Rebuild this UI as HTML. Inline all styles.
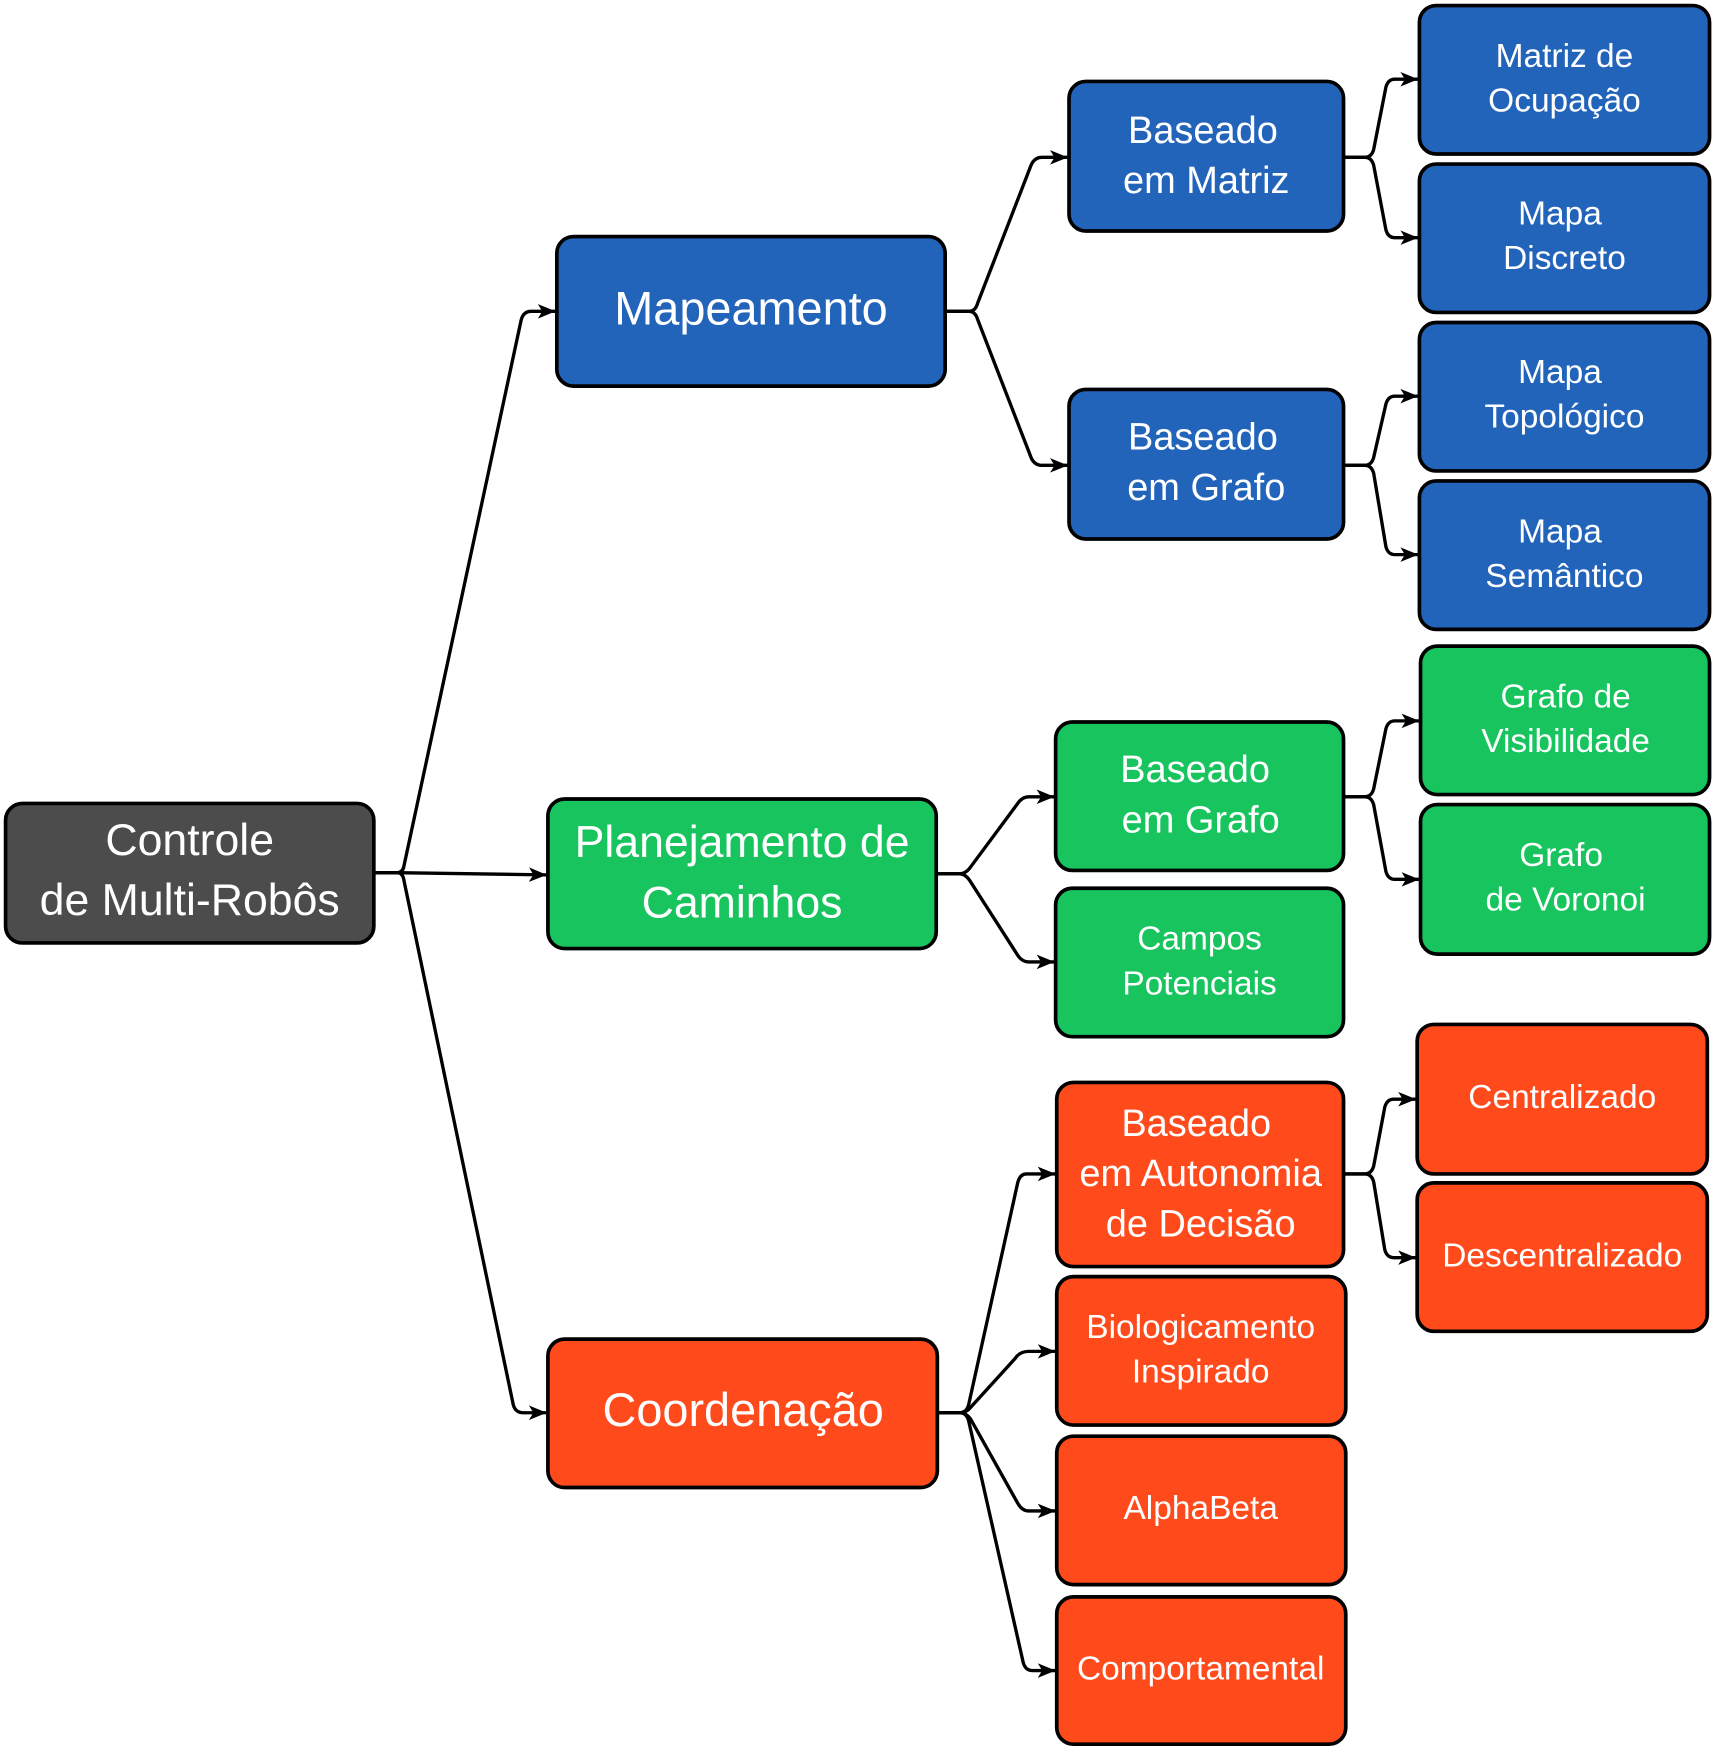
<!DOCTYPE html>
<html><head><meta charset="utf-8"><style>
html,body{margin:0;padding:0;background:#fff;}
svg{display:block;}
text{font-family:"Liberation Sans",Arial,sans-serif;fill:#fff;text-anchor:middle;}
</style></head><body>
<svg width="1714" height="1752" viewBox="0 0 1536 1570" preserveAspectRatio="none" xmlns="http://www.w3.org/2000/svg">
<defs>
<marker id="a" markerWidth="16" markerHeight="13" refX="15" refY="6.5" orient="auto" markerUnits="userSpaceOnUse">
<path d="M0,0 L16,6.5 L0,13 L4,6.5 z" fill="#000"/>
</marker>
</defs>
<g fill="none" stroke="#000" stroke-width="3" stroke-linejoin="round" stroke-linecap="round" marker-end="url(#a)">
<path d="M335 782 H356 Q361 782 362 776 L467 287 Q469 279 476 279 H497"/>
<path d="M335 782 H356 L489 784"/>
<path d="M335 782 H356 Q361 782 362 789 L460 1259 Q462 1266 469 1266 H489"/>
<path d="M847 279 H868 Q874 279 876 272 L924 148 Q927 141 934 141 H956"/>
<path d="M847 279 H868 Q874 279 876 286 L924 410 Q927 417 934 417 H956"/>
<path d="M839 783 H860 Q865 783 869 778 L912 720 Q916 714 922 714 H944"/>
<path d="M839 783 H860 Q865 783 869 789 L912 856 Q916 862 922 862 H944"/>
<path d="M840 1266 H860 Q866 1266 868 1259 L912 1060 Q914 1052 920 1052 H945"/>
<path d="M840 1266 H860 Q866 1266 870 1261 L910 1217 Q914 1211 922 1211 H945"/>
<path d="M840 1266 H860 Q866 1266 870 1272 L912 1347 Q916 1354 922 1354 H945"/>
<path d="M840 1266 H860 Q866 1266 868 1273 L917 1490 Q919 1497 925 1497 H945"/>
<path d="M1204 141 H1223 Q1229 141 1231 134 L1242 78 Q1244 71 1250 71 H1270"/>
<path d="M1204 141 H1223 Q1229 141 1231 148 L1242 206 Q1244 213 1250 213 H1270"/>
<path d="M1204 417 H1223 Q1229 417 1231 410 L1242 362 Q1244 355 1250 355 H1270"/>
<path d="M1204 417 H1223 Q1229 417 1231 424 L1242 490 Q1244 497 1250 497 H1270"/>
<path d="M1204 714 H1223 Q1229 714 1231 707 L1242 653 Q1244 646 1250 646 H1271"/>
<path d="M1204 714 H1223 Q1229 714 1231 721 L1242 781 Q1244 788 1250 788 H1271"/>
<path d="M1204 1052 H1223 Q1229 1052 1231 1045 L1241 992 Q1243 985 1249 985 H1268"/>
<path d="M1204 1052 H1223 Q1229 1052 1231 1059 L1241 1120 Q1243 1127 1249 1127 H1268"/>
</g>
<g stroke="#000" stroke-width="3.3">
<rect x="5" y="720" width="330" height="125" rx="15" fill="#4C4C4C"/>
<rect x="499" y="212" width="348" height="134" rx="15" fill="#2364BB"/>
<rect x="491" y="716" width="348" height="134" rx="15" fill="#18C45E"/>
<rect x="491" y="1200" width="349" height="133" rx="15" fill="#FF4A1C"/>
<rect x="958" y="73" width="246" height="134" rx="15" fill="#2364BB"/>
<rect x="958" y="349" width="246" height="134" rx="15" fill="#2364BB"/>
<rect x="1272" y="5" width="260" height="133" rx="15" fill="#2364BB"/>
<rect x="1272" y="147" width="260" height="133" rx="15" fill="#2364BB"/>
<rect x="1272" y="289" width="260" height="133" rx="15" fill="#2364BB"/>
<rect x="1272" y="431" width="260" height="133" rx="15" fill="#2364BB"/>
<rect x="946" y="647" width="258" height="133" rx="15" fill="#18C45E"/>
<rect x="946" y="796" width="258" height="133" rx="15" fill="#18C45E"/>
<rect x="1273" y="579" width="259" height="133" rx="15" fill="#18C45E"/>
<rect x="1273" y="721" width="259" height="134" rx="15" fill="#18C45E"/>
<rect x="947" y="970" width="257" height="165" rx="15" fill="#FF4A1C"/>
<rect x="947" y="1144" width="259" height="133" rx="15" fill="#FF4A1C"/>
<rect x="947" y="1287" width="259" height="133" rx="15" fill="#FF4A1C"/>
<rect x="947" y="1431" width="259" height="132" rx="15" fill="#FF4A1C"/>
<rect x="1270" y="918" width="260" height="134" rx="15" fill="#FF4A1C"/>
<rect x="1270" y="1060" width="260" height="133" rx="15" fill="#FF4A1C"/>
</g>
<g font-size="40">
<text x="170" y="766">Controle</text><text x="170" y="820">de Multi-Robôs</text>
<text x="665" y="768">Planejamento de</text><text x="665" y="822">Caminhos</text>
</g>
<g font-size="42">
<text x="673" y="291">Mapeamento</text>
<text x="666" y="1278">Coordenação</text>
</g>
<g font-size="34">
<text x="1078" y="128">Baseado</text><text x="1081" y="173">em Matriz</text>
<text x="1078" y="403">Baseado</text><text x="1081" y="448">em Grafo</text>
<text x="1071" y="701">Baseado</text><text x="1076" y="746">em Grafo</text>
<text x="1072" y="1018">Baseado</text><text x="1076" y="1063">em Autonomia</text><text x="1076" y="1108">de Decisão</text>
</g>
<g font-size="30">
<text x="1402" y="60">Matriz de</text><text x="1402" y="100">Ocupação</text>
<text x="1398" y="201">Mapa</text><text x="1402" y="241">Discreto</text>
<text x="1398" y="343">Mapa</text><text x="1402" y="383">Topológico</text>
<text x="1398" y="486">Mapa</text><text x="1402" y="526">Semântico</text>
<text x="1075" y="851">Campos</text><text x="1075" y="891">Potenciais</text>
<text x="1403" y="634">Grafo de</text><text x="1403" y="674">Visibilidade</text>
<text x="1399" y="776">Grafo</text><text x="1403" y="816">de Voronoi</text>
<text x="1076" y="1199">Biologicamento</text><text x="1076" y="1239">Inspirado</text>
<text x="1076" y="1361">AlphaBeta</text>
<text x="1076" y="1505">Comportamental</text>
<text x="1400" y="993">Centralizado</text>
<text x="1400" y="1135">Descentralizado</text>
</g>
</svg>
</body></html>
